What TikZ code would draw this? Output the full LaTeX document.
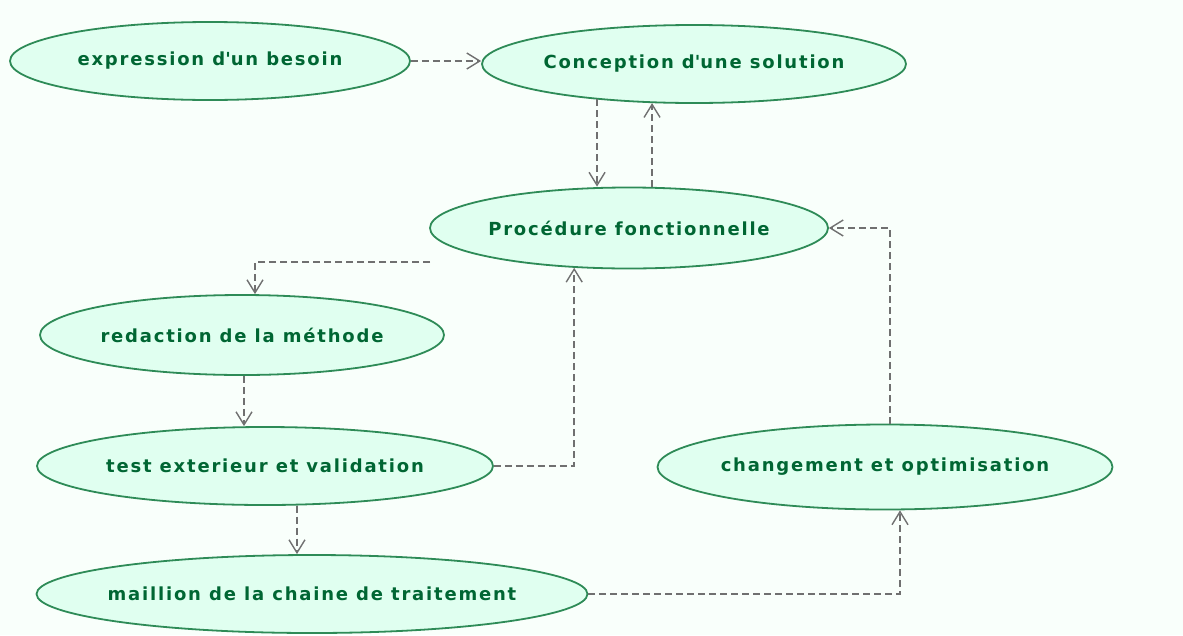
\documentclass[tikz,border=0pt]{standalone}
\usepackage{fontspec}
\setmainfont{DejaVu Sans}
\newfontfamily\casefont[LetterSpace=10]{DejaVu Sans}
\usetikzlibrary{shapes.geometric,arrows.meta}
\definecolor{bgmint}{HTML}{F9FFFB}
\definecolor{casefill}{HTML}{E0FFF0}
\definecolor{caseline}{HTML}{2E8B57}
\definecolor{casetext}{HTML}{006633}
\definecolor{depgray}{HTML}{707070}
\tikzset{
  usecase/.style={draw=caseline, fill=casefill, line width=1.8pt, ellipse,
    inner xsep=-120pt, inner ysep=0pt,
    font=\casefont\fontsize{18}{20}\selectfont\bfseries, text=casetext},
  dep/.style={draw=depgray, line width=1.7pt, dash pattern=on 7pt off 4pt,
    -{Straight Barb[length=13pt,width=16pt,line width=1.4pt]}},
}
\begin{document}
\begin{tikzpicture}[x=1pt,y=-1pt]
    \useasboundingbox[fill=bgmint] (0,0) rectangle (1183,635);

    \node[usecase, minimum width=400pt, minimum height=78pt] (besoin)   at (210, 61) {expression d\textquotesingle un besoin};
    \node[usecase, minimum width=424pt, minimum height=78pt] (concept)  at (694, 64) {Conception d\textquotesingle une solution};
    \node[usecase, minimum width=398pt, minimum height=81pt] (proc)     at (629,228) {Procédure fonctionnelle};
    \node[usecase, minimum width=404pt, minimum height=80pt] (redac)    at (242,335) {redaction de la méthode};
    \node[usecase, minimum width=456pt, minimum height=78pt] (test)     at (265,466) {test exterieur et validation};
    \node[usecase, minimum width=455pt, minimum height=85pt] (change)   at (885,467) {changement et optimisation};
    \node[usecase, minimum width=551pt, minimum height=78pt] (maillon)  at (312,594) {maillion de la chaine de traitement};

    \coordinate (procL) at (430,262);

    \draw[dep] (besoin.east)  -- (besoin.east -| concept.west);
    \draw[dep] ([xshift=0.5pt]concept.200) -- ([xshift=0.5pt]concept.200 |- proc.north);
    \draw[dep] (proc.north -| concept.223) -- (concept.223);
    \draw[dep] (procL)        -| ([xshift=13pt]redac.north);
    \draw[dep] ([xshift=2pt]redac.south) -- ([xshift=2pt]redac.south |- test.north);
    \draw[dep] (test.east)    -| (proc.216);
    \draw[dep] (test.309)     -- (test.309 |- maillon.north);
    \draw[dep] (maillon.east) -| ([xshift=15pt]change.south);
    \draw[dep] ([xshift=5pt]change.north) |- (proc.east);
\end{tikzpicture}
\end{document}
